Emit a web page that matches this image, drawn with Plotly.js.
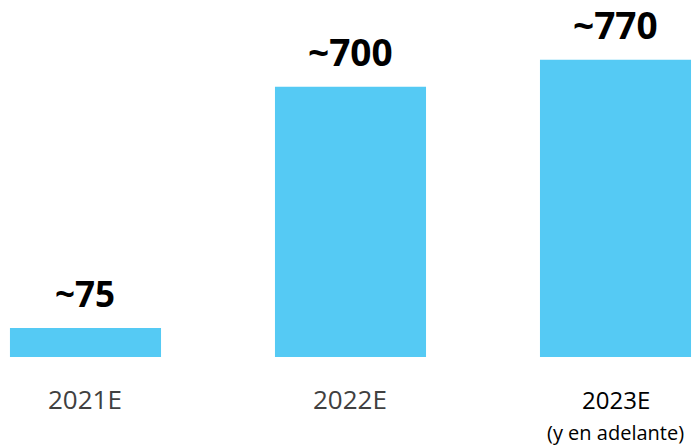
<!DOCTYPE html>
<html>
<head>
<meta charset="utf-8">
<script src="https://cdn.plot.ly/plotly-3.0.1.min.js"></script>
<style>html,body{margin:0;padding:0;background:#fff;}#chart{width:695px;height:448px;}</style>
</head>
<body>
<div id="chart"></div>
<script>
const categories = ["2021E", "2022E", "2023E"];
const values = [75, 700, 770];
const valueLabels = ["~75", "~700", "~770"];
const tickLabels = ["2021E", "2022E", "2023E"];
const tickColors = ["#404040", "#404040", "#000000"];
const subLabels = ["", "", "(y en adelante)"];

const xIdx = categories.map((c, i) => i);

const annotations = [];
values.forEach((v, i) => {
  annotations.push({
    x: xIdx[i], y: v, xref: "x", yref: "y",
    text: valueLabels[i], showarrow: false,
    yanchor: "middle", yshift: 35, borderpad: 0,
    font: {family: "Open Sans", size: i === 0 ? 35 : 37, color: "#000", weight: 700}
  });
  annotations.push({
    x: xIdx[i], y: -0.118, xref: "x", yref: "paper",
    text: tickLabels[i], showarrow: false, yanchor: "middle", borderpad: 0,
    font: {family: "Open Sans", size: i === 2 ? 24 : 26, color: tickColors[i]}
  });
  if (subLabels[i]) {
    annotations.push({
      x: xIdx[i], y: -0.212, xref: "x", yref: "paper",
      text: subLabels[i], showarrow: false, yanchor: "middle", borderpad: 0,
      font: {family: "Open Sans", size: 20, color: "#000"}
    });
  }
});

const trace = {
  type: "bar",
  x: xIdx,
  y: values,
  width: 0.57,
  marker: {color: "#55CAF4"},
  hoverinfo: "none"
};

const layout = {
  width: 695, height: 448,
  margin: {l: 0, r: 0, t: 0, b: 91, pad: 0},
  paper_bgcolor: "#fff", plot_bgcolor: "#fff",
  showlegend: false,
  xaxis: {range: [-0.3226, 2.3], showgrid: false, zeroline: false, showline: false,
          showticklabels: false, ticks: "", fixedrange: true},
  yaxis: {range: [0, 925], showgrid: false, zeroline: false, showline: false,
          showticklabels: false, ticks: "", fixedrange: true},
  annotations: annotations
};

Plotly.newPlot("chart", [trace], layout, {displayModeBar: false, staticPlot: true});
</script>
</body>
</html>
